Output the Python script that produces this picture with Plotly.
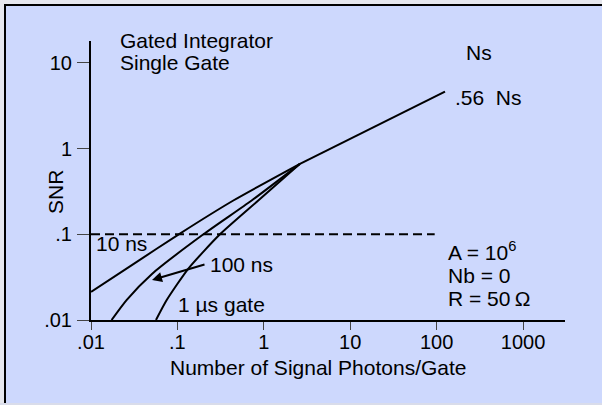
import plotly.graph_objects as go

# ---- data ----
ns_10ns = [0.01, 0.03, 0.107, 0.444, 2.62]
snr_10ns = [0.0213, 0.0440, 0.102, 0.248, 0.664]

ns_100ns = [0.0173, 0.0258, 0.0504, 0.2, 0.723, 2.62]
snr_100ns = [0.01, 0.0171, 0.0343, 0.1, 0.248, 0.664]

ns_1us = [0.0565, 0.0752, 0.134, 0.311, 0.863, 2.62]
snr_1us = [0.01, 0.0171, 0.0398, 0.1, 0.248, 0.664]

ns_shot = [2.62, 125]
snr_shot = [0.664, 4.63]

ns_ref = [0.01, 95]
snr_ref = [0.1, 0.1]

x_ticks = [0.01, 0.1, 1, 10, 100, 1000]
x_ticktext = [".01", ".1", "1", "10", "100", "1000"]
y_ticks = [0.01, 0.1, 1, 10]
y_ticktext = [".01", ".1", "1", "10"]

BG = "#CDD8FD"
FONT = "Liberation Sans, Arial, Helvetica, sans-serif"

# plot area in pixels
L, R, T, B = 91, 565, 41, 320
W, H = 602, 405


def px(x):
    return (x - L) / (R - L)


def py(y):
    return (B - y) / (B - T)


fig = go.Figure()
line = dict(color="black", width=2)
for xs, ys in [(ns_10ns, snr_10ns), (ns_100ns, snr_100ns), (ns_1us, snr_1us), (ns_shot, snr_shot)]:
    fig.add_trace(go.Scatter(x=xs, y=ys, mode="lines", line=dict(line, shape="spline", smoothing=0.6),
                             showlegend=False, hoverinfo="skip", cliponaxis=False))
fig.add_trace(go.Scatter(x=ns_ref, y=snr_ref, mode="lines",
                         line=dict(color="black", width=2, dash="9px,5px"),
                         showlegend=False, hoverinfo="skip"))

ann = []
FS = 21


def text(x, y, s, size=FS, xa="left", ya="middle", align="left"):
    ann.append(dict(xref="paper", yref="paper", x=px(x), y=py(y), text=s, showarrow=False,
                    xanchor=xa, yanchor=ya, align=align,
                    font=dict(family=FONT, size=size, color="black")))


text(118, 40, "Gated Integrator")
text(118, 63, "Single Gate")
text(464, 53, "Ns")
text(453, 97, ".56  Ns")
text(94, 243, "10 ns")
text(208, 264, "100 ns")
text(176, 304, "1 \u00b5s gate")
text(446, 251, "A = 10<sup>6</sup>")
text(446, 275, "Nb = 0")
text(446, 298, "R = 50\u2009\u03a9")
text(318, 367, "Number of Signal Photons/Gate", xa="center")
ann.append(dict(xref="paper", yref="paper", x=px(55), y=py(192), text="SNR", textangle=-90,
                showarrow=False, xanchor="center", yanchor="middle",
                font=dict(family=FONT, size=FS, color="black")))
# arrow to the 100 ns curve
ann.append(dict(xref="paper", yref="paper", x=px(152), y=py(280), ax=54, ay=-16,
                axref="pixel", ayref="pixel", text="", showarrow=True, arrowhead=2,
                arrowsize=1, arrowwidth=2, arrowcolor="black"))

shapes = [
    dict(type="rect", xref="paper", yref="paper", x0=px(0), x1=px(4), y0=py(0), y1=py(W),
         fillcolor="#e6e7ee", line_width=0, layer="below"),
    dict(type="rect", xref="paper", yref="paper", x0=px(0), x1=px(W), y0=py(0), y1=py(4),
         fillcolor="#e6e7ee", line_width=0, layer="below"),
    dict(type="rect", xref="paper", yref="paper", x0=px(0), x1=px(W), y0=py(403), y1=py(W),
         fillcolor="#d9dcea", line_width=0, layer="below"),
    dict(type="line", xref="paper", yref="paper", x0=px(5), x1=px(5), y0=py(4), y1=py(403),
         line=dict(color="black", width=2)),
    dict(type="line", xref="paper", yref="paper", x0=px(4), x1=px(W), y0=py(5), y1=py(5),
         line=dict(color="black", width=2)),
]

fig.update_layout(
    width=W, height=H,
    margin=dict(l=L, r=W - R, t=T, b=H - B, pad=0),
    paper_bgcolor=BG, plot_bgcolor=BG,
    annotations=ann, shapes=shapes,
    font=dict(family=FONT, color="black"),
)
fig.update_xaxes(type="log", range=[-2, 3.486], tickmode="array", tickvals=x_ticks,
                 ticktext=x_ticktext, ticks="outside", ticklen=8, tickwidth=1, tickcolor="#444",
                 showline=True, linewidth=2, linecolor="black", showgrid=False, zeroline=False,
                 tickfont=dict(size=20), ticklabelstandoff=-5)
fig.update_yaxes(type="log", range=[-2, 1.256], tickmode="array", tickvals=y_ticks,
                 ticktext=y_ticktext, ticks="outside", ticklen=12, tickwidth=1, tickcolor="#444",
                 showline=True, linewidth=2, linecolor="black", showgrid=False, zeroline=False,
                 tickfont=dict(size=20), ticklabelstandoff=1)

fig.write_html("out.html")
